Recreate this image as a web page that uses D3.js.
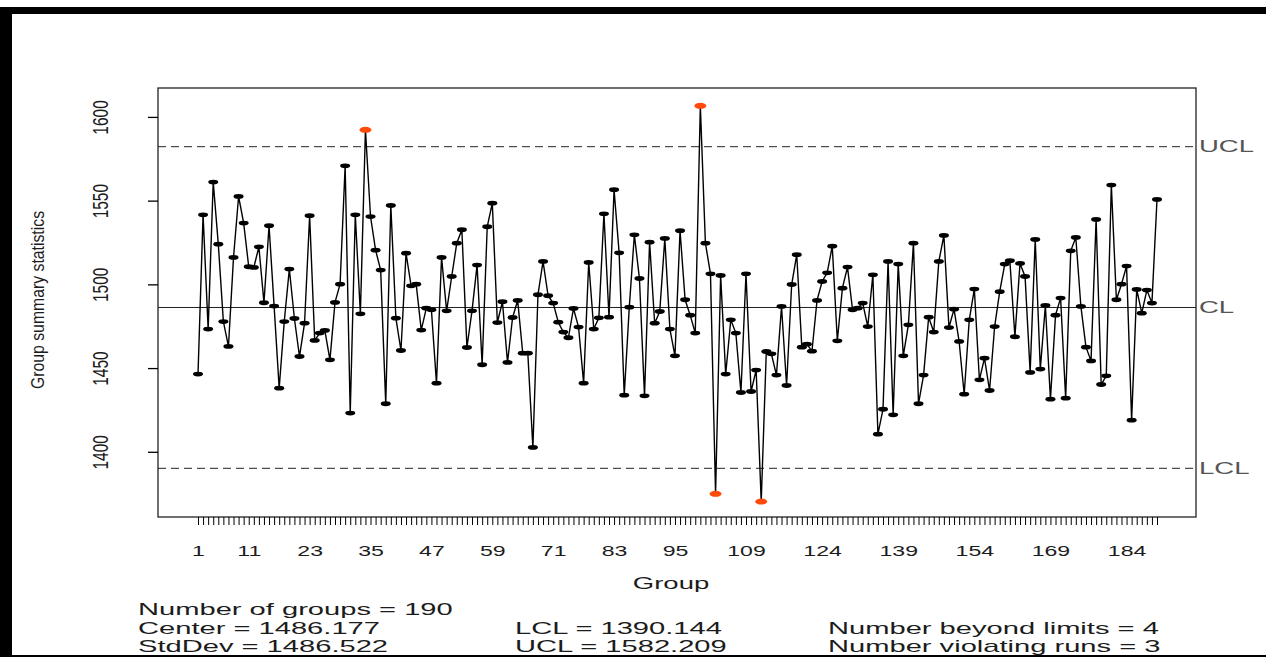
<!DOCTYPE html>
<html>
<head>
<meta charset="utf-8">
<script src="https://cdn.jsdelivr.net/npm/d3@7"></script>
<style>
  html, body { margin: 0; padding: 0; background: #fff; }
  svg { display: block; }
  text { font-family: "Liberation Sans", Arial, Helvetica, sans-serif; }
</style>
</head>
<body>
<svg id="chart" width="1266" height="657"></svg>
<script>
// ---- data: group summary statistics (one value per group) ----
const groups = d3.range(1, 191);
const values = [
  1446.4, 1541.5, 1473.3, 1561.1, 1524.0, 1477.8, 1462.9, 1516.1, 1552.5, 1536.6,
  1510.5, 1510.1, 1522.4, 1489.0, 1535.0, 1487.0, 1438.0, 1477.8, 1509.1, 1479.6,
  1456.9, 1476.8, 1541.0, 1466.5, 1470.9, 1472.5, 1454.9, 1489.2, 1500.1, 1570.8,
  1423.1, 1541.5, 1482.4, 1592.3, 1540.5, 1520.4, 1508.5, 1428.7, 1547.1, 1479.8,
  1460.5, 1518.6, 1499.1, 1500.1, 1472.7, 1485.8, 1484.8, 1441.0, 1516.1, 1484.2,
  1504.7, 1524.6, 1532.6, 1462.3, 1484.2, 1511.5, 1452.0, 1534.4, 1548.5, 1477.2,
  1489.6, 1453.4, 1480.2, 1490.4, 1458.9, 1458.9, 1402.6, 1493.8, 1513.7, 1493.2,
  1488.8, 1477.4, 1471.5, 1468.1, 1485.6, 1474.5, 1441.0, 1513.1, 1473.3, 1480.0,
  1542.1, 1480.4, 1556.5, 1518.8, 1433.8, 1486.4, 1529.6, 1503.5, 1433.4, 1525.2,
  1476.8, 1483.8, 1527.4, 1473.3, 1457.3, 1532.0, 1490.8, 1481.6, 1470.9, 1606.6,
  1524.6, 1506.3, 1374.9, 1505.3, 1446.4, 1478.8, 1470.9, 1435.4, 1506.3, 1436.0,
  1448.8, 1370.3, 1459.9, 1458.5, 1445.8, 1486.8, 1439.6, 1499.9, 1517.7, 1462.5,
  1464.3, 1460.1, 1490.4, 1501.7, 1506.9, 1522.8, 1466.3, 1497.7, 1510.3, 1484.8,
  1485.8, 1488.8, 1474.8, 1505.7, 1410.5, 1425.4, 1513.7, 1422.1, 1512.1, 1457.3,
  1475.8, 1524.6, 1428.7, 1445.8, 1480.4, 1471.5, 1513.7, 1529.2, 1474.2, 1485.2,
  1465.9, 1434.4, 1478.8, 1497.2, 1443.0, 1455.9, 1436.6, 1474.8, 1495.6, 1512.1,
  1514.1, 1468.7, 1512.5, 1504.7, 1447.4, 1526.8, 1449.4, 1487.4, 1431.4, 1481.6,
  1491.8, 1432.0, 1520.0, 1528.0, 1486.8, 1462.5, 1454.3, 1538.8, 1440.2, 1445.4,
  1559.3, 1490.8, 1500.1, 1510.9, 1418.9, 1497.0, 1482.8, 1496.6, 1488.8, 1550.7
];
const xTickLabels = [1, 11, 23, 35, 47, 59, 71, 83, 95, 109, 124, 139, 154, 169, 184];
const yTicks = [1400, 1450, 1500, 1550, 1600];

// control limits and summary
const center = 1486.177;
const lcl = 1390.144;
const ucl = 1582.209;
const stdDev = 1486.522;
const violatingRuns = 3;

// ---- layout ----
const W = 1266, H = 657;
const box = { left: 158, right: 1196, top: 88, bottom: 517 };
const SX = 1.82;          // horizontal stretch of glyphs
const FS = 16;            // base font size
const INK = "#1c1c1c";

const svg = d3.select("#chart");
svg.append("rect").attr("width", W).attr("height", H).attr("fill", "#fff");

// outer frame
svg.append("rect").attr("x", 10).attr("y", 7).attr("width", W - 10).attr("height", 7).attr("fill", "#000");
svg.append("rect").attr("x", 0).attr("y", 7).attr("width", 12).attr("height", H - 7).attr("fill", "#000");
svg.append("rect").attr("x", 0).attr("y", H - 2).attr("width", W).attr("height", 2).attr("fill", "#000");

const x = d3.scaleLinear().domain([1, 190]).range([198, 1157]);
const y = d3.scaleLinear().domain([lcl, ucl]).range([468.3, 146.7]);

const data = groups.map((g, i) => ({ g, v: values[i], out: values[i] > ucl || values[i] < lcl }));

function stretchedText(parent, str, px, py, opts = {}) {
  const t = parent.append("text")
    .attr("transform", `translate(${px},${py}) scale(${opts.sx || SX},1)` + (opts.rotate ? " rotate(-90)" : ""))
    .attr("font-size", opts.size || FS)
    .attr("text-anchor", opts.anchor || "start")
    .attr("fill", opts.fill || INK)
    .text(str);
  if (opts.dy) t.attr("dy", opts.dy);
  return t;
}

// ---- control lines ----
const lines = svg.append("g");
lines.append("line")
  .attr("x1", box.left).attr("x2", box.right)
  .attr("y1", y(center)).attr("y2", y(center))
  .attr("stroke", "#222").attr("stroke-width", 1);
[ucl, lcl].forEach(v => {
  lines.append("line")
    .attr("x1", box.left).attr("x2", box.right)
    .attr("y1", y(v)).attr("y2", y(v))
    .attr("stroke", "#222").attr("stroke-width", 1)
    .attr("stroke-dasharray", "8,5");
});

// ---- series ----
const line = d3.line().x(d => x(d.g)).y(d => y(d.v));
svg.append("path")
  .datum(data)
  .attr("d", line)
  .attr("fill", "none")
  .attr("stroke", "#000")
  .attr("stroke-width", 1.4);

svg.append("g").selectAll("ellipse")
  .data(data)
  .join("ellipse")
  .attr("cx", d => x(d.g))
  .attr("cy", d => y(d.v))
  .attr("rx", d => d.out ? 6 : 5)
  .attr("ry", d => d.out ? 3 : 2.4)
  .attr("fill", d => d.out ? "#ff4a0a" : "#000");

// ---- plot box ----
svg.append("rect")
  .attr("x", box.left).attr("y", box.top)
  .attr("width", box.right - box.left).attr("height", box.bottom - box.top)
  .attr("fill", "none").attr("stroke", "#222").attr("stroke-width", 1.3);

// ---- y axis ----
const yAxis = svg.append("g")
  .attr("transform", `translate(${box.left},0)`)
  .call(d3.axisLeft(y).tickValues(yTicks).tickSize(10).tickSizeOuter(0));
yAxis.select(".domain").remove();
yAxis.selectAll(".tick line").attr("stroke", "#000").attr("stroke-width", 1.3);
yAxis.selectAll(".tick text").remove();
yAxis.selectAll(".tick").each(function (d) {
  stretchedText(d3.select(this), d3.format("d")(d), -58, 0,
    { rotate: true, anchor: "middle", dy: "0.36em", size: 15.5, sx: 1.4 });
});

// ---- x axis ----
const labelSet = new Set(xTickLabels);
const xAxis = svg.append("g")
  .attr("transform", `translate(0,${box.bottom})`)
  .call(d3.axisBottom(x).tickValues(groups).tickSize(8).tickSizeOuter(0)
    .tickFormat(d => labelSet.has(d) ? d : ""));
xAxis.select(".domain").remove();
xAxis.selectAll(".tick line").attr("stroke", "#000").attr("stroke-width", 1);
xAxis.selectAll(".tick text").remove();
xAxis.selectAll(".tick").filter(d => labelSet.has(d)).each(function (d) {
  stretchedText(d3.select(this), String(d), 0, 39, { anchor: "middle", size: 14, sx: 1.65 });
});

// ---- axis titles ----
stretchedText(svg, "Group", 671, 589, { anchor: "middle", sx: 1.72 });
stretchedText(svg, "Group summary statistics", 37, 300,
  { rotate: true, anchor: "middle", dy: "0.36em", size: 15.8, sx: 1.2 });

// ---- limit labels ----
[["UCL", ucl], ["CL", center], ["LCL", lcl]].forEach(([lab, v]) => {
  stretchedText(svg, lab, 1199, y(v), { dy: "0.36em", fill: "#555", sx: 1.72 });
});

// ---- summary text ----
const summary = svg.append("g");
const col = [138, 515, 828];
const row = [615, 634, 652];
stretchedText(summary, `Number of groups = ${values.length}`, col[0], row[0]);
stretchedText(summary, `Center = ${center.toFixed(3)}`, col[0], row[1]);
stretchedText(summary, `StdDev = ${stdDev.toFixed(3)}`, col[0], row[2]);
stretchedText(summary, `LCL = ${lcl.toFixed(3)}`, col[1], row[1]);
stretchedText(summary, `UCL = ${ucl.toFixed(3)}`, col[1], row[2]);
stretchedText(summary, `Number beyond limits = ${data.filter(d => d.out).length}`, col[2], row[1]);
stretchedText(summary, `Number violating runs = ${violatingRuns}`, col[2], row[2]);
</script>
</body>
</html>
